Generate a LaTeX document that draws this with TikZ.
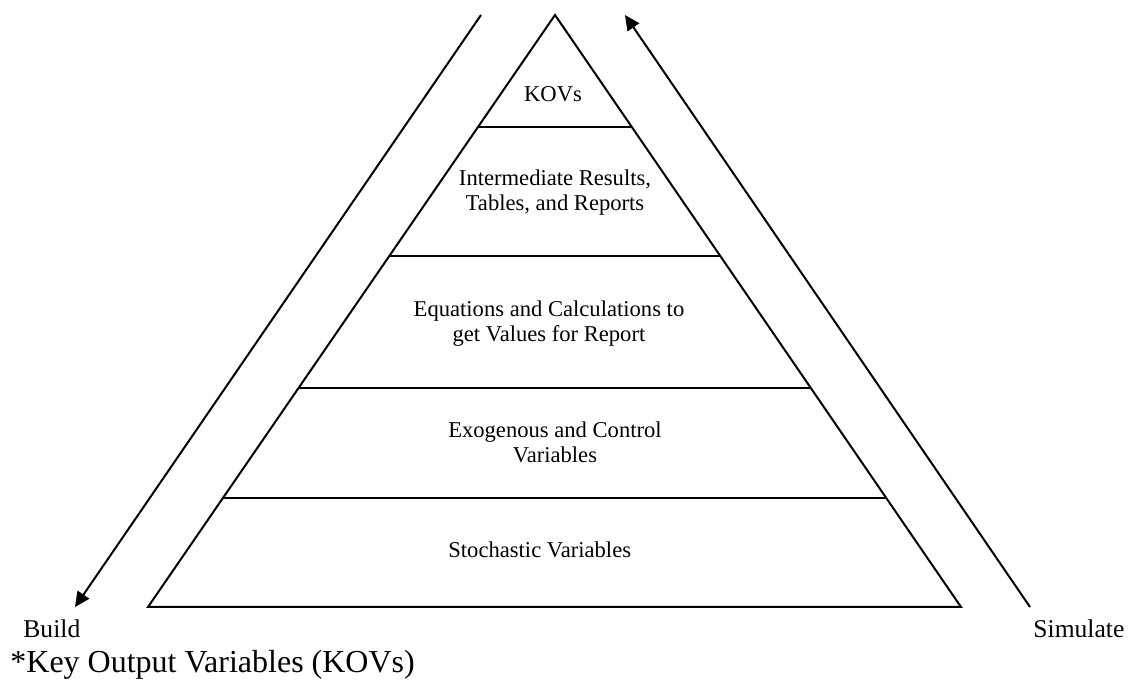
\documentclass[tikz,border=0pt]{standalone}
\usepackage{fontspec}
\setmainfont{Liberation Serif}
\usetikzlibrary{arrows.meta,calc}
\begin{document}
\begin{tikzpicture}[x=0.5pt,y=-0.5pt,
  edge/.style={line width=1pt},
  arr/.style={line width=1pt,-{Triangle[length=7.5pt,width=7pt]}},
  lvl/.style={inner sep=0pt,align=center,font=\fontsize{11.3}{12.8}\selectfont},
  side/.style={inner sep=0pt,font=\fontsize{12.8}{15}\selectfont},
  foot/.style={inner sep=0pt,font=\fontsize{16}{18}\selectfont}]
\useasboundingbox (0,0) rectangle (1132,683);
% pyramid
\coordinate (apex) at (555,15);
\coordinate (bl) at (148,607);
\coordinate (br) at (961,607);
\draw[edge,line join=miter] (apex) -- (bl) -- (br) -- cycle;
\foreach \t/\n in {0.1892/a,0.4071/b,0.6301/c,0.8159/d}{
  \coordinate (l\n) at ($(apex)!\t!(bl)$);
  \coordinate (r\n) at ($(apex)!\t!(br)$);
  \draw[edge] (l\n) -- (r\n);
}
% level texts (base anchor = baseline of last line)
\node[lvl,anchor=base] (kov) at (553,102) {KOVs};
\node[lvl,anchor=base] (inter) at (555,211) {Intermediate Results,\\Tables, and Reports};
\node[lvl,anchor=base] (eq) at (549,342) {Equations and Calculations to\\get Values for Report};
\node[lvl,anchor=base] (exo) at (555,463) {Exogenous and Control\\Variables};
\node[lvl,anchor=base west] (sto) at (448,558) {Stochastic Variables};
% arrows
\coordinate (Ltop) at (481,15);
\coordinate (Lbot) at (75,607);
\coordinate (Rbot) at (1030,607);
\coordinate (Rtop) at (625,15);
\draw[arr] (Ltop) -- (Lbot);
\draw[arr] (Rbot) -- (Rtop);
% labels
\node[side,anchor=base west] (build) at (23,638) {Build};
\node[side,anchor=base west] (sim) at (1033,638) {Simulate};
\node[foot,anchor=base west] (note) at (10,673) {*Key Output Variables (KOVs)};
\end{tikzpicture}
\end{document}
